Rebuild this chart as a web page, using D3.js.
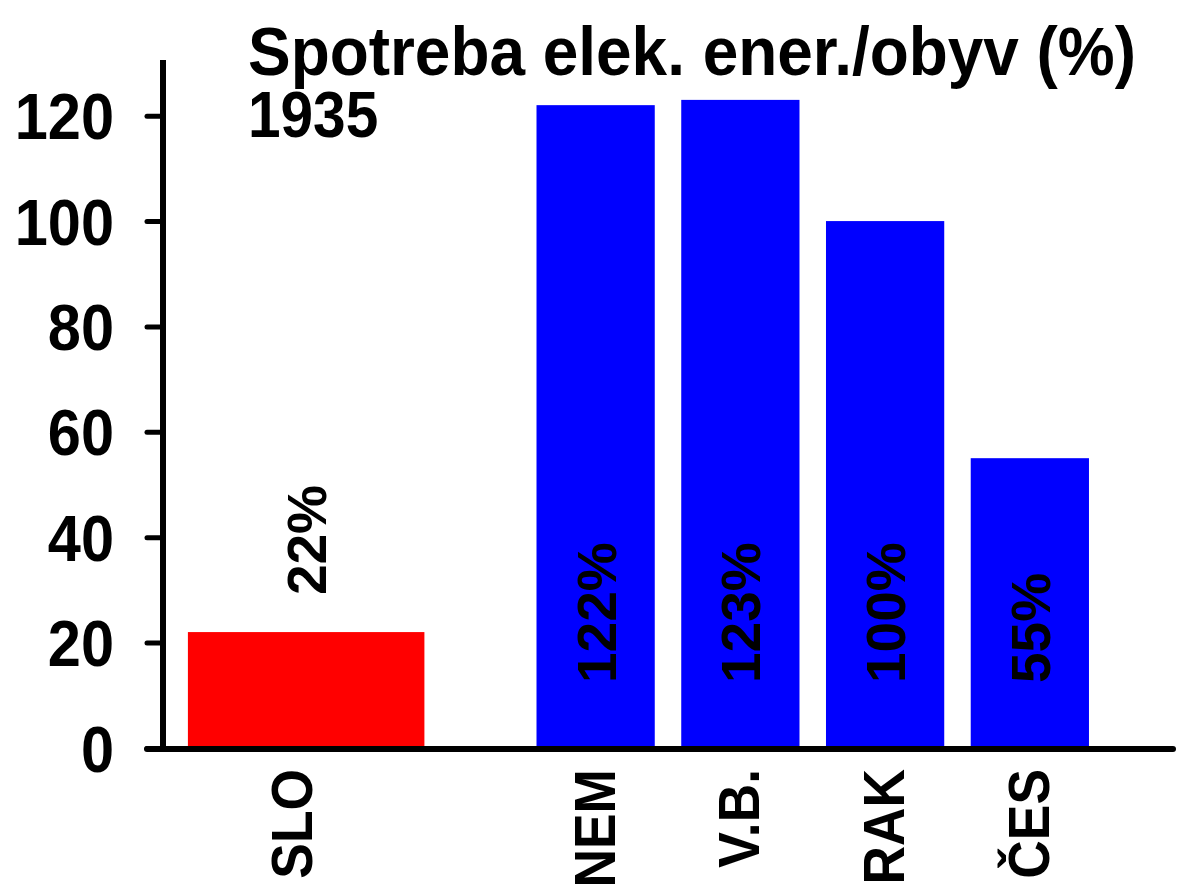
<!DOCTYPE html>
<html lang="sk">
<head>
<meta charset="utf-8">
<title>Spotreba elek. ener./obyv</title>
<script src="https://cdn.jsdelivr.net/npm/d3@7/dist/d3.min.js"></script>
<style>
  html, body { margin: 0; padding: 0; background: #fff; }
  text { font-family: "Liberation Sans", Arial, sans-serif; font-weight: bold; fill: #000; }
</style>
</head>
<body>
<script>
// data
var categories = ["SLO", "NEM", "V.B.", "RAK", "ČES"];
var values = [22, 122, 123, 100, 55];
var valueLabels = ["22%", "122%", "123%", "100%", "55%"];
var barColors = ["#ff0000", "#0000ff", "#0000ff", "#0000ff", "#0000ff"];
var yTicks = [0, 20, 40, 60, 80, 100, 120];
var titleText = "Spotreba elek. ener./obyv (%)";
var yearText = "1935";

var width = 1179,
    height = 896;

var svg = d3.select("body").append("svg")
    .attr("width", width)
    .attr("height", height);

// SLO sits apart from the others, one empty slot between them
var slots = [categories[0], "_gap"].concat(categories.slice(1));

var x = d3.scaleBand()
    .domain(slots)
    .range([234, 1102])
    .paddingInner(0.183)
    .paddingOuter(0.09);

var y = d3.scaleLinear()
    .domain([0, 130])
    .range([748, 63]);

var data = categories.map(function(c, i) {
  return { name: c, value: values[i], label: valueLabels[i], color: barColors[i], wide: i === 0 };
});

function barWidth(d) { return d.wide ? x.bandwidth() * 2 : x.bandwidth(); }
function barCenter(d) { return x(d.name) + x.bandwidth() / 2; }

// bars
svg.append("g")
  .selectAll("rect")
  .data(data)
  .enter().append("rect")
    .attr("x", function(d) { return barCenter(d) - barWidth(d) / 2; })
    .attr("y", function(d) { return y(d.value); })
    .attr("width", barWidth)
    .attr("height", function(d) { return y(0) - y(d.value); })
    .style("fill", function(d) { return d.color; });

// value labels, rotated; short bars get it above, tall ones inside near the base
svg.append("g")
  .selectAll("text")
  .data(data)
  .enter().append("text")
    .attr("transform", function(d) {
      var ty = d.value > 40 ? y(0) - 65 : y(d.value) - 37;
      return "translate(" + (barCenter(d) + 20) + "," + ty + ") rotate(-90)";
    })
    .style("font-size", "55px")
    .text(function(d) { return d.label; });

// y axis
var yAxis = d3.axisLeft(y)
    .tickValues(yTicks)
    .tickSize(16)
    .tickPadding(32);

var gy = svg.append("g")
    .attr("transform", "translate(163,0)")
    .call(yAxis);

gy.select(".domain").remove();
gy.selectAll(".tick line")
    .attr("stroke", "#000")
    .attr("stroke-width", 5)
    .attr("stroke-linecap", "round");
gy.selectAll(".tick text")
    .attr("x", 0)
    .attr("dy", "0.36em")
    .attr("transform", "translate(-49,0) scale(0.93,1)")
    .style("font-size", "64px")
    .style("font-family", "'Liberation Sans', Arial, sans-serif")
    .style("font-weight", "bold");

// axis lines
svg.append("line")
    .attr("x1", 163).attr("x2", 163)
    .attr("y1", y(130) - 3).attr("y2", y(0))
    .attr("stroke", "#000")
    .attr("stroke-width", 6);

svg.append("line")
    .attr("x1", 147).attr("x2", 1173)
    .attr("y1", y(0) + 1).attr("y2", y(0) + 1)
    .attr("stroke", "#000")
    .attr("stroke-width", 6)
    .attr("stroke-linecap", "round");

// category labels, rotated under the axis
svg.append("g")
  .selectAll("text")
  .data(data)
  .enter().append("text")
    .attr("transform", function(d) {
      var cx = barCenter(d) + (d.wide ? 6 : 19);
      return "translate(" + cx + "," + (y(0) + 21) + ") rotate(-90) scale(0.92,1)";
    })
    .attr("text-anchor", "end")
    .style("font-size", "58px")
    .text(function(d) { return d.name; });

// title
svg.append("text")
    .attr("transform", "translate(248,75) scale(0.94,1)")
    .style("font-size", "68px")
    .text(titleText);

svg.append("text")
    .attr("transform", "translate(248,137) scale(0.915,1)")
    .style("font-size", "64px")
    .text(yearText);
</script>
</body>
</html>
